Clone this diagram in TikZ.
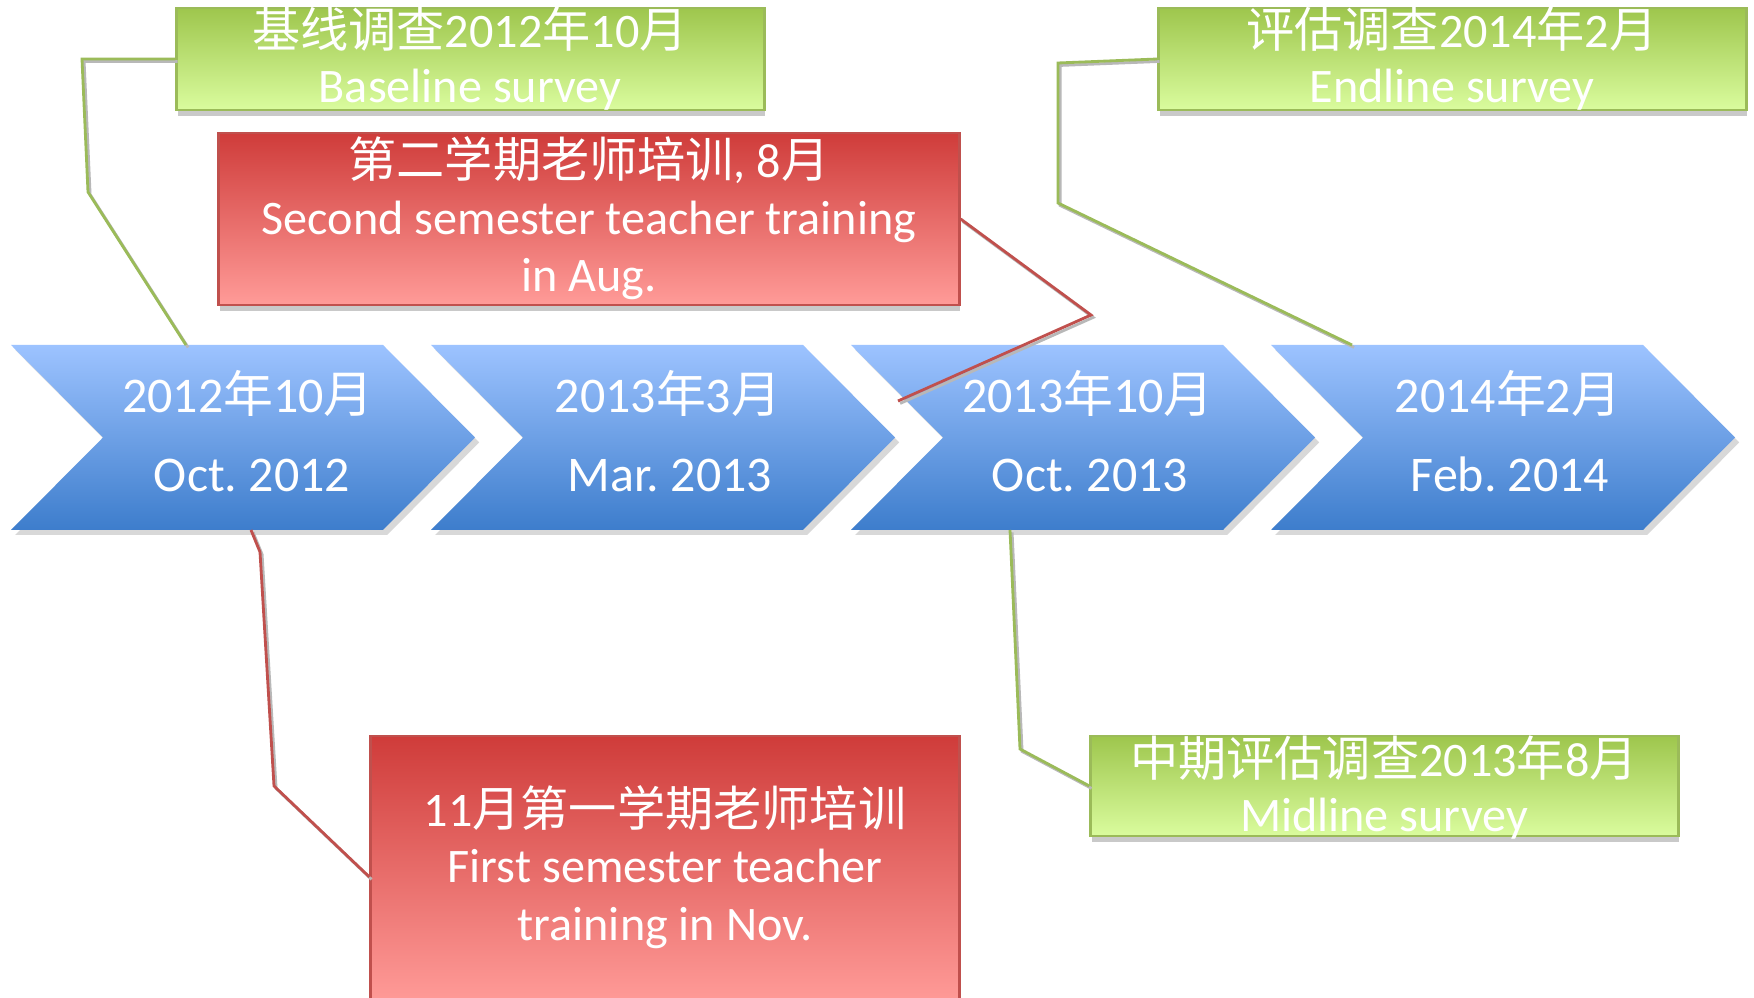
\documentclass[tikz,border=0pt]{standalone}
\usepackage{fontspec}
\setmainfont{Carlito}
\newfontfamily\cjk{Noto Sans CJK SC}
\usetikzlibrary{shadows,calc}
\newcommand\zh[1]{{\cjk #1}}
\definecolor{gtop}{HTML}{9EC64D}
\definecolor{gbot}{HTML}{DAFC9E}
\definecolor{gline}{HTML}{9BBB59}
\definecolor{rtop}{HTML}{CF3C3A}
\definecolor{rbot}{HTML}{FF9B98}
\definecolor{rline}{HTML}{C0504D}
\definecolor{btop}{HTML}{9DC3FF}
\definecolor{bbot}{HTML}{3D7DCC}
\frenchspacing
\begin{document}
\begin{tikzpicture}[x=0.01cm,y=-0.01cm,
  chev/.style={top color=btop,bottom color=bbot,draw=none,
    drop shadow={shadow xshift=1.2pt,shadow yshift=-1.4pt,opacity=0.3}},
  gbox/.style={rectangle,draw=gline,line width=0.8pt,top color=gtop,bottom color=gbot,
    drop shadow={shadow xshift=0.3pt,shadow yshift=-1.6pt,opacity=0.35,fill=black!60},inner sep=0pt},
  rbox/.style={rectangle,draw=rline,line width=0.8pt,top color=rtop,bottom color=rbot,
    drop shadow={shadow xshift=0.3pt,shadow yshift=-1.6pt,opacity=0.35,fill=black!60},inner sep=0pt},
  btxt/.style={text=white,anchor=base,inner sep=0pt,font=\fontsize{13.7}{16}\selectfont\frenchspacing},
  ctxt/.style={text=white,anchor=base,inner sep=0pt,font=\fontsize{14.2}{17}\selectfont\frenchspacing},
  gconn/.style={draw=gline,line width=0.8pt,
    preaction={draw=black!28,line width=0.8pt,transform canvas={xshift=0.6pt,yshift=-0.7pt}}},
  rconn/.style={draw=rline,line width=0.8pt,
    preaction={draw=black!28,line width=0.8pt,transform canvas={xshift=0.6pt,yshift=-0.7pt}}}
]
\useasboundingbox (0,0) rectangle (1754,998);
\fill[white] (0,0) rectangle (1754,998);

% chevrons
\path[chev] (11,345) -- ++(372,0) -- ++(92,92.5) -- ++(-92,92.5) -- ++(-372,0) -- ++(92,-92.5) -- cycle;
\path[chev] (431,345) -- ++(372,0) -- ++(92,92.5) -- ++(-92,92.5) -- ++(-372,0) -- ++(92,-92.5) -- cycle;
\path[chev] (851,345) -- ++(372,0) -- ++(92,92.5) -- ++(-92,92.5) -- ++(-372,0) -- ++(92,-92.5) -- cycle;
\path[chev] (1271,345) -- ++(372,0) -- ++(92,92.5) -- ++(-92,92.5) -- ++(-372,0) -- ++(92,-92.5) -- cycle;

\node[ctxt] (c1a) at (248,413) {2012\zh{年}10\zh{月}};
\node[ctxt] (c1b) at (252,492) {Oct. 2012};
\node[ctxt] (c2a) at (668,413) {2013\zh{年}3\zh{月}};
\node[ctxt] (c2b) at (670,492) {Mar. 2013};
\node[ctxt] (c3a) at (1088,413) {2013\zh{年}10\zh{月}};
\node[ctxt] (c3b) at (1090,492) {Oct. 2013};
\node[ctxt] (c4a) at (1508,413) {2014\zh{年}2\zh{月}};
\node[ctxt] (c4b) at (1510,492) {Feb. 2014};

\coordinate (c1top) at (186,345);
\coordinate (c1bot) at (251,530);
\coordinate (c3end) at (898,401);
\coordinate (c3bot) at (1010,530);
\coordinate (c4top) at (1352,345);

% boxes
\node[gbox,minimum width=5.87cm,minimum height=1.02cm] (base) at (470.5,59) {};
\node[gbox,minimum width=5.87cm,minimum height=1.02cm] (endl) at (1452.5,59) {};
\node[rbox,minimum width=7.40cm,minimum height=1.72cm] (sec) at (589,219) {};
\node[rbox,minimum width=5.88cm,minimum height=2.66cm] (fst) at (665,869) {};
\node[gbox,minimum width=5.87cm,minimum height=1.00cm] (mid) at (1384.5,786) {};

% connectors
\draw[gconn] (base.west) -- (82,59) -- (88,192) -- (c1top);
\draw[gconn] (endl.west) -- (1058,63) -- (1058,203) -- (c4top);
\draw[rconn] (sec.east) -- (1091,315) -- (c3end);
\draw[rconn] (c1bot) -- (260,552) -- (274,786) -- ($(fst.west)+(0,8)$);
\draw[gconn] (c3bot) -- (1020,749) -- (mid.west);

% box texts
\node[btxt] (t1a) at (470,48) {\zh{基线调查}2012\zh{年}10\zh{月}};
\node[btxt] (t1b) at (470,103) {Baseline survey};
\node[btxt] (t2a) at (1452,48) {\zh{评估调查}2014\zh{年}2\zh{月}};
\node[btxt] (t2b) at (1452,103) {Endline survey};
\node[btxt] (t3a) at (589,178) {\zh{第二学期老师培训}, 8\zh{月}};
\node[btxt] (t3b) at (589,235) {Second semester teacher training};
\node[btxt] (t3c) at (589,292) {in Aug.};
\node[btxt] (t4a) at (665,827) {11\zh{月第一学期老师培训}};
\node[btxt] (t4b) at (665,883) {First semester teacher};
\node[btxt] (t4c) at (665,941) {training in Nov.};
\node[btxt] (t5a) at (1384,777) {\zh{中期评估调查}2013\zh{年}8\zh{月}};
\node[btxt] (t5b) at (1384,832) {Midline survey};
\end{tikzpicture}
\end{document}
